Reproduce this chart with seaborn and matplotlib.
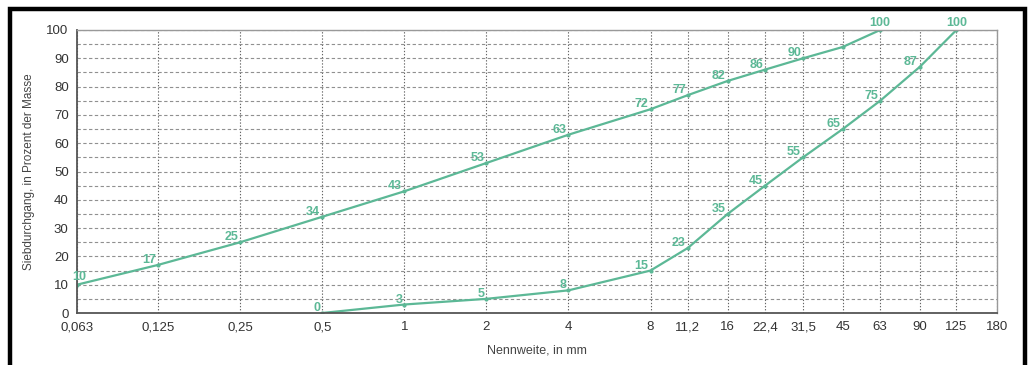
import numpy as np
import pandas as pd
import matplotlib
matplotlib.use("Agg")
import matplotlib.pyplot as plt
from matplotlib.patches import Rectangle
from matplotlib.ticker import MultipleLocator
import seaborn as sns

sns.set_theme(style="white")
plt.rcParams['font.family'] = ['Liberation Sans', 'DejaVu Sans']

# sieve sizes (mm) and passing percentages
sieves = [0.063, 0.125, 0.25, 0.5, 1, 2, 4, 8, 11.2, 16, 22.4, 31.5, 45, 63, 90, 125, 180]
sieve_labels = ['0,063', '0,125', '0,25', '0,5', '1', '2', '4', '8', '11,2', '16',
                '22,4', '31,5', '45', '63', '90', '125', '180']

upper_x = [0.063, 0.125, 0.25, 0.5, 1, 2, 4, 8, 11.2, 16, 22.4, 31.5, 45, 63]
upper_y = [10, 17, 25, 34, 43, 53, 63, 72, 77, 82, 86, 90, 94, 100]
upper_lbl = ['10', '17', '25', '34', '43', '53', '63', '72', '77', '82', '86', '90', '', '100']

lower_x = [0.5, 1, 2, 4, 8, 11.2, 16, 22.4, 31.5, 45, 63, 90, 125]
lower_y = [0, 3, 5, 8, 15, 23, 35, 45, 55, 65, 75, 87, 100]
lower_lbl = ['0', '3', '5', '8', '15', '23', '35', '45', '55', '65', '75', '87', '100']

green = '#5cb896'

df = pd.concat([
    pd.DataFrame({'size': upper_x, 'pass': upper_y, 'curve': 'upper'}),
    pd.DataFrame({'size': lower_x, 'pass': lower_y, 'curve': 'lower'}),
])

# log axis, slightly compressed above 8 mm like the printed form
K = 0.94
def fwd(x):
    l = np.log2(np.clip(x, 1e-9, None))
    return np.where(l <= 3, l, 3 + (l - 3) * K)

def inv(y):
    y = np.asarray(y, dtype=float)
    return np.where(y <= 3, 2.0 ** y, 2.0 ** (3 + (y - 3) / K))

fig = plt.figure(figsize=(10.29, 3.65), dpi=100)
ax = fig.add_axes([77 / 1029, 1 - 313 / 365, 920 / 1029, 283 / 365])
ax.set_xscale('function', functions=(fwd, inv))

sns.lineplot(data=df, x='size', y='pass', hue='curve', palette=[green, green],
             marker='o', markersize=3, markeredgewidth=0, linewidth=1.6,
             legend=False, ax=ax, sort=False, estimator=None)

ax.set_xlim(0.063, 180)
ax.set_ylim(0, 100)
ax.set_xticks(sieves)
ax.set_xticklabels(sieve_labels)
ax.xaxis.set_minor_locator(plt.NullLocator())
ax.yaxis.set_major_locator(MultipleLocator(10))
ax.yaxis.set_minor_locator(MultipleLocator(5))

ax.grid(True, axis='y', which='both', color='#909090', linewidth=0.8, linestyle=(0, (3, 2.2)))
ax.grid(True, axis='x', which='major', color='#666666', linewidth=0.8, linestyle=(0, (1.2, 1.6)))
ax.tick_params(axis='both', which='both', length=0, labelsize=9.5, labelcolor='#333333')
ax.tick_params(axis='x', pad=6)
ax.tick_params(axis='y', pad=6)

for s in ['top', 'right']:
    ax.spines[s].set_color('#999999')
    ax.spines[s].set_linewidth(1.0)
for s in ['left', 'bottom']:
    ax.spines[s].set_color('#555555')
    ax.spines[s].set_linewidth(1.3)

ax.set_xlabel('Nennweite, in mm', fontsize=9, color='#444444', labelpad=8)
ax.set_ylabel('Siebdurchgang, in Prozent der Masse', fontsize=8.5, color='#444444', labelpad=8)

def annotate(xs, ys, labels):
    for x, y, t in zip(xs, ys, labels):
        if not t:
            continue
        if y == 100:
            kw = dict(ha='center', va='bottom', xytext=(0, 1))
        elif x == sieves[0]:
            kw = dict(ha='center', va='bottom', xytext=(2, 2))
        else:
            kw = dict(ha='right', va='center', xytext=(-2, 5))
        ax.annotate(t, (x, y), textcoords='offset pixels', fontsize=9,
                    fontweight='bold', color=green, clip_on=False, **kw)

annotate(upper_x, upper_y, upper_lbl)
annotate(lower_x, lower_y, lower_lbl)

# black frame of the scanned page (open at the bottom)
fig.add_artist(Rectangle((10 / 1029, -0.2), 1015 / 1029, 1.2 - 9 / 365,
                         transform=fig.transFigure, fill=False,
                         edgecolor='black', linewidth=3.2))

fig.savefig('out.png', dpi=100)
